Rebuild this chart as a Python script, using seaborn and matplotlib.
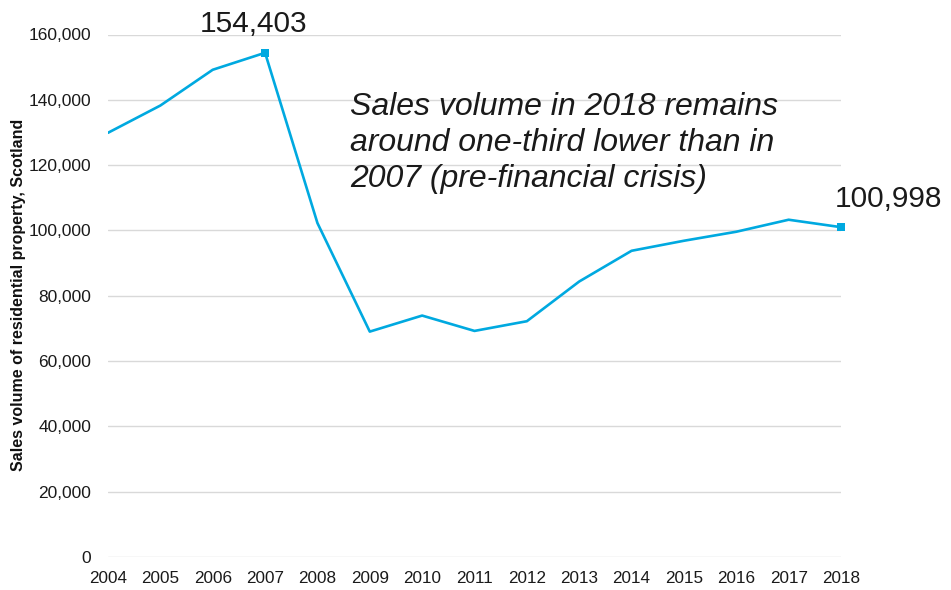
import matplotlib
matplotlib.use("Agg")
import matplotlib.pyplot as plt
import seaborn as sns
import pandas as pd
from matplotlib.ticker import FuncFormatter

years = [2004, 2005, 2006, 2007, 2008, 2009, 2010, 2011, 2012, 2013, 2014, 2015, 2016, 2017, 2018]
sales = [129900, 138250, 149200, 154403, 102270, 69020, 73930, 69230, 72200, 84360, 93770, 96840, 99600, 103280, 100998]
highlight_years = [2007, 2018]
y_ticks = [0, 20000, 40000, 60000, 80000, 100000, 120000, 140000, 160000]
note = "Sales volume in 2018 remains\naround one-third lower than in\n2007 (pre-financial crisis)"
y_label = "Sales volume of residential property, Scotland"

sns.set_theme(style="white")
plt.rcParams['font.family'] = ['Liberation Sans', 'DejaVu Sans']

df = pd.DataFrame({"year": years, "sales": sales})
hl = df[df["year"].isin(highlight_years)]

color = "#00A9E0"
fig = plt.figure(figsize=(9.51, 5.90), dpi=100)
ax = fig.add_axes([108/951, 1-557/590, (841-108)/951, (557-34.5)/590])

sns.lineplot(data=df, x="year", y="sales", ax=ax, color=color, linewidth=1.9)
sns.scatterplot(data=hl, x="year", y="sales", ax=ax, color=color, marker="s", s=40,
                edgecolor=color, linewidth=0, zorder=5, clip_on=False)

ax.set_xlim(2004, 2018)
ax.set_ylim(0, 160000)
ax.set_xticks(years)
ax.set_yticks(y_ticks)
ax.yaxis.set_major_formatter(FuncFormatter(lambda v, p: f"{int(v):,}"))
ax.tick_params(axis="both", length=0, colors="#1a1a1a")
ax.tick_params(axis="y", pad=12, labelsize=12.5)
ax.tick_params(axis="x", pad=10, labelsize=12.3)
ax.grid(axis="y", color="#d9d9d9", linewidth=1)
ax.set_axisbelow(True)
for s in ax.spines.values():
    s.set_visible(False)

ax.set_xlabel("")
ax.set_ylabel(y_label, fontsize=11.5, fontweight="bold", color="#111111")
ax.yaxis.set_label_coords(-(108 - 19) / 733, (557 - 295) / 522.5)
ax.yaxis.label.set_va("center")

for _, r in hl.iterrows():
    if r["year"] == 2007:
        ax.annotate(f"{int(r['sales']):,}", (r["year"], r["sales"]), xytext=(-8.6, 15),
                    textcoords="offset points", ha="center", va="baseline", fontsize=21.5,
                    color="#1a1a1a", annotation_clip=False)
    else:
        ax.annotate(f"{int(r['sales']):,}", (r["year"], r["sales"]), xytext=(-4.3, 14.4),
                    textcoords="offset points", ha="left", va="baseline", fontsize=21.5,
                    color="#1a1a1a", annotation_clip=False)

fig.text(350/951, 1-92/590, note, fontsize=23, style="italic", color="#1a1a1a",
         ha="left", va="top", linespacing=1.26)

fig.savefig("out.png", dpi=100, facecolor="white")
